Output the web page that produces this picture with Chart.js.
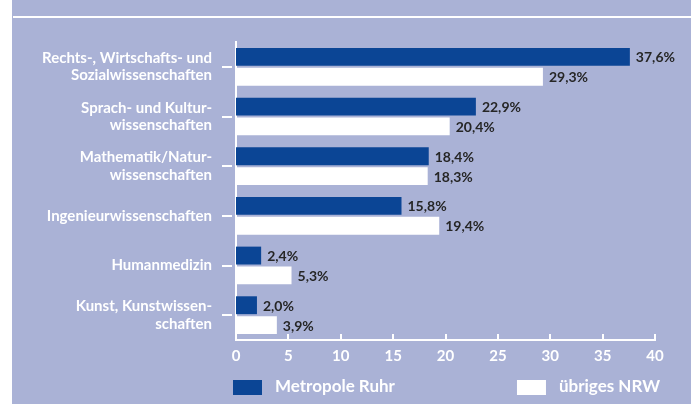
<!DOCTYPE html>
<html><head><meta charset="utf-8">
<script src="https://cdn.jsdelivr.net/npm/chart.js@4"></script>
<style>
html,body{margin:0;padding:0;background:#fff;overflow:hidden;}
#panel{position:absolute;left:12px;top:0;width:679px;height:404px;background:#aab2d6;}
#rule{position:absolute;left:1px;top:16px;width:678px;height:2px;background:#fff;}
canvas{position:absolute;left:0;top:0;}
</style></head><body>
<div id="panel"><div id="rule"></div><canvas id="c" width="679" height="404"></canvas></div>
<script>
const categories = [
  ["Rechts-, Wirtschafts- und", "Sozialwissenschaften"],
  ["Sprach- und Kultur-", "wissenschaften"],
  ["Mathematik/Natur-", "wissenschaften"],
  "Ingenieurwissenschaften",
  "Humanmedizin",
  ["Kunst, Kunstwissen-", "schaften"]
];
const metropoleRuhr = [37.6, 22.9, 18.4, 15.8, 2.4, 2.0];
const uebrigesNRW = [29.3, 20.4, 18.3, 19.4, 5.3, 3.9];
const seriesNames = ["Metropole Ruhr", "übriges NRW"];
const xTickValues = [0, 5, 10, 15, 20, 25, 30, 35, 40];

const BLUE = '#0b4595';
const WHITE = '#ffffff';
const FONT = 'Lato';

const fmt = v => v.toFixed(1).replace('.', ',') + '%';

const decor = {
  id: 'decor',
  afterDatasetsDraw(chart) {
    const ctx = chart.ctx;
    ctx.save();
    ctx.font = 'bold 14px ' + FONT;
    ctx.fillStyle = '#262626';
    ctx.textBaseline = 'middle';
    ctx.textAlign = 'left';
    chart.data.datasets.forEach((ds, di) => {
      chart.getDatasetMeta(di).data.forEach((el, i) => {
        ctx.fillText(fmt(ds.data[i]), el.x + 6, el.y + 1);
      });
    });
    ctx.restore();
  },
  afterDraw(chart) {
    const ctx = chart.ctx;
    const ca = chart.chartArea;
    const xs = chart.scales.x, ys = chart.scales.y;
    ctx.save();
    ctx.strokeStyle = WHITE;
    ctx.lineWidth = 2;
    xTickValues.forEach(v => {
      const px = Math.round(xs.getPixelForValue(v));
      ctx.beginPath();
      ctx.moveTo(px, ca.bottom);
      ctx.lineTo(px, ca.bottom - 6);
      ctx.stroke();
    });
    categories.forEach((c, i) => {
      const py = Math.round(ys.getPixelForValue(i));
      ctx.beginPath();
      ctx.moveTo(ca.left - 14, py);
      ctx.lineTo(ca.left - 4, py);
      ctx.stroke();
    });
    const ly = 387;
    ctx.font = 'bold 17px ' + FONT;
    ctx.textBaseline = 'middle';
    ctx.fillStyle = BLUE;
    ctx.fillRect(ca.left - 3, ly - 7, 29, 15);
    ctx.fillStyle = WHITE;
    ctx.textAlign = 'left';
    ctx.fillText(seriesNames[0], ca.left + 39, ly);
    const w2 = ctx.measureText(seriesNames[1]).width;
    const tx2 = ca.right + 5 - w2;
    ctx.fillText(seriesNames[1], tx2, ly);
    ctx.fillRect(tx2 - 42, ly - 7, 29, 15);
    ctx.restore();
  }
};

new Chart(document.getElementById('c'), {
  type: 'bar',
  data: {
    labels: categories,
    datasets: [
      { label: seriesNames[0], data: metropoleRuhr, backgroundColor: BLUE, categoryPercentage: 0.8, barPercentage: 0.9 },
      { label: seriesNames[1], data: uebrigesNRW, backgroundColor: WHITE, categoryPercentage: 0.8, barPercentage: 0.9 }
    ]
  },
  options: {
    indexAxis: 'y',
    responsive: false,
    animation: false,
    layout: { padding: { top: 42, right: 36, left: 0, bottom: 0 } },
    plugins: { legend: { display: false }, tooltip: { enabled: false } },
    scales: {
      x: {
        min: 0, max: 40,
        afterBuildTicks(s) { s.ticks = xTickValues.map(v => ({ value: v })); },
        afterFit(s) { s.height = 64; },
        grid: { display: false, drawTicks: false },
        border: { display: true, color: WHITE, width: 2 },
        ticks: { color: WHITE, font: { family: FONT, weight: 'bold', size: 15 }, padding: 7 }
      },
      y: {
        afterFit(s) { s.width = 224; },
        grid: { display: false, drawTicks: false },
        border: { display: true, color: WHITE, width: 2 },
        ticks: { color: WHITE, font: { family: FONT, weight: 'bold', size: 15, lineHeight: 1.15 }, padding: 24 }
      }
    }
  },
  plugins: [decor]
});
</script>
</body></html>
